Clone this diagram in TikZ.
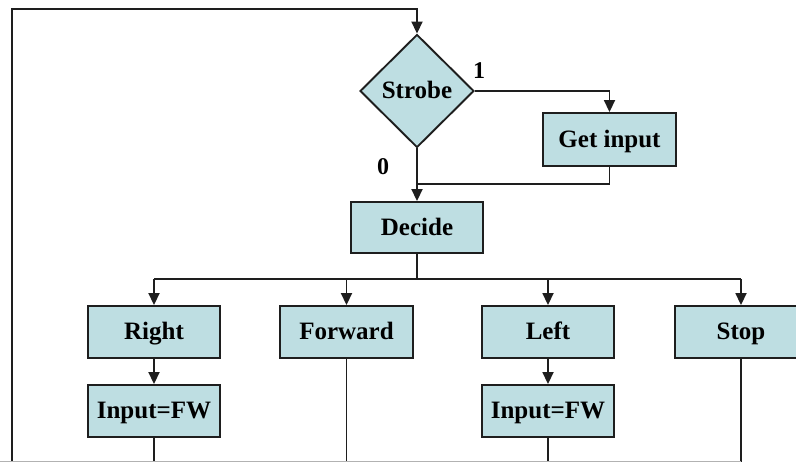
\documentclass[tikz,border=0pt]{standalone}
\usepackage{fontspec}
\setmainfont{Liberation Serif}
\usetikzlibrary{shapes.geometric,arrows.meta}
\definecolor{boxfill}{RGB}{190,222,226}
\definecolor{linec}{RGB}{30,30,30}
\begin{document}
\begin{tikzpicture}[x=1pt,y=-1pt,
  box/.style={draw=linec,fill=boxfill,line width=1.9pt,rectangle,minimum width=132pt,minimum height=52pt,inner sep=0pt,text height=19pt,text depth=3pt,font=\fontsize{25}{28}\selectfont\bfseries},
  dec/.style={draw=linec,fill=boxfill,line width=1.9pt,diamond,minimum width=114pt,minimum height=113pt,inner sep=0pt,text height=19pt,text depth=3pt,font=\fontsize{25}{28}\selectfont\bfseries},
  conn/.style={draw=linec,line width=1.8pt},
  arr/.style={conn,-{Triangle[width=11pt,length=12pt]}},
  lbl/.style={font=\fontsize{24}{26}\selectfont\bfseries,inner sep=0pt}]
\useasboundingbox (0,0) rectangle (796,462);
\clip (0,0) rectangle (796,462);
\fill[white] (0,0) rectangle (796,462);
% nodes
\node[dec] (strobe) at (417,91) {Strobe};
\node[box,minimum width=133pt,minimum height=53pt] (getin) at (609.5,139.5) {Get input};
\node[box,minimum height=51pt] (decide) at (417,227.5) {Decide};
\node[box] (right) at (154,332) {Right};
\node[box,minimum width=133pt] (forward) at (346.5,332) {Forward};
\node[box] (left) at (548,332) {Left};
\node[box] (stop) at (741,332) {Stop};
\node[box] (in1) at (154,411) {Input=FW};
\node[box] (in2) at (548,411) {Input=FW};
\node[lbl] (one) at (479,71) {1};
\node[lbl] (zero) at (383,167) {0};
% coordinates
\coordinate (loopstart) at (12,462);
\coordinate (looptop) at (12,9);
\coordinate (join) at (417,184);
\coordinate (split) at (417,279);
\coordinate (splitL) at (154,279);
\coordinate (splitR) at (741,279);
\coordinate (b1) at (154,462);
\coordinate (b2) at (346.5,462);
\coordinate (b3) at (548,462);
\coordinate (b4) at (741,462);
% connectors
\draw[arr] (loopstart) -- (looptop) -| (strobe.north);
\draw[arr] (strobe.east) -| (getin.north);
\draw[conn] (getin.south) |- (join);
\draw[arr] (strobe.south) -- (decide.north);
\draw[conn] (decide.south) -- (split);
\draw[conn] (splitL) -- (splitR);
\draw[arr] (splitL) -- (right.north);
\draw[arr] (split -| forward.north) -- (forward.north);
\draw[arr] (split -| left.north) -- (left.north);
\draw[arr] (splitR) -- (stop.north);
\draw[arr] (right.south) -- (in1.north);
\draw[arr] (left.south) -- (in2.north);
\draw[conn] (in1.south) -- (b1);
\draw[conn] (forward.south) -- (b2);
\draw[conn] (in2.south) -- (b3);
\draw[conn] (stop.south) -- (b4);
\draw[draw=gray!60,line width=1.2pt] (0,461.4) -- (b4 |- 0,461.4);
\end{tikzpicture}
\end{document}
